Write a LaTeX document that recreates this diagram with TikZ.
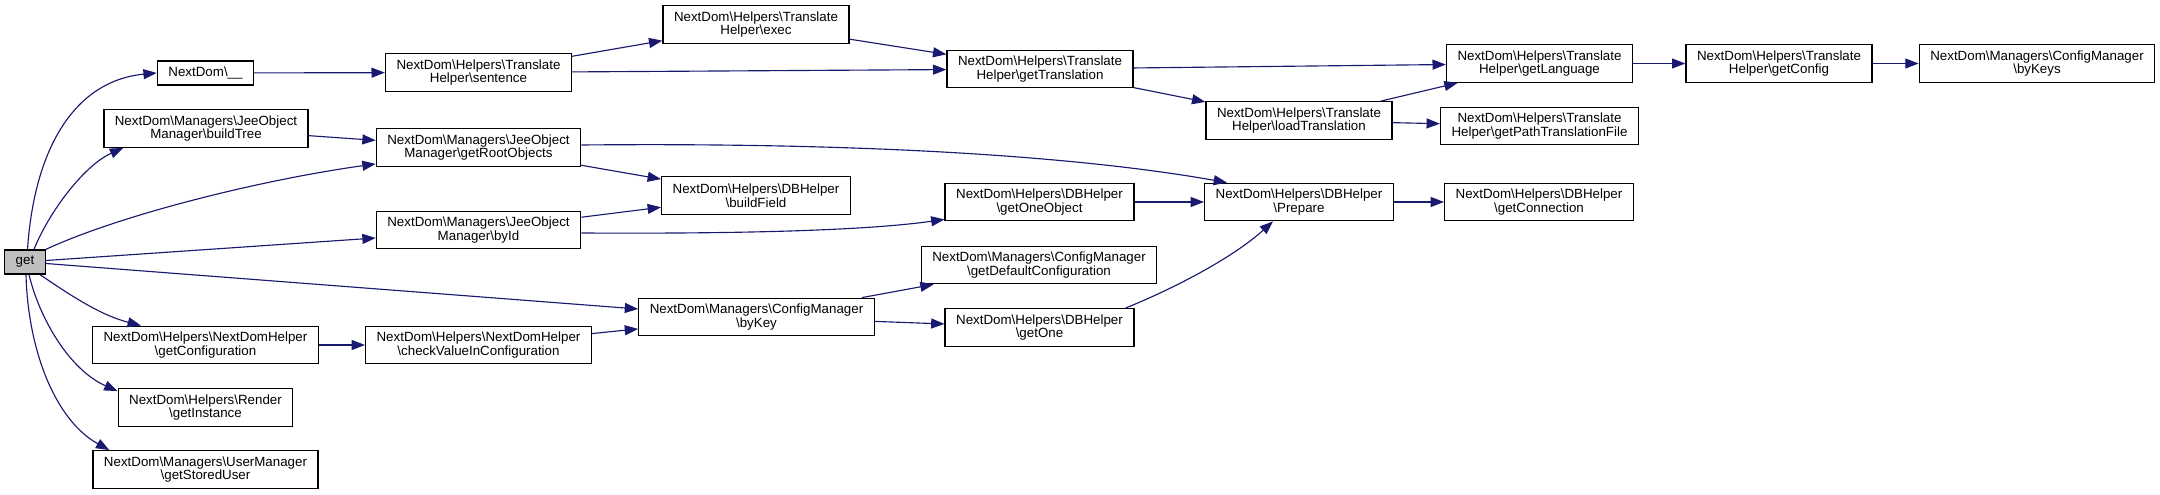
\documentclass[tikz,border=0pt]{standalone}
\usepackage{fontspec}
\setmainfont{Liberation Sans}
\usetikzlibrary{arrows.meta,calc}
\newcommand{\bsl}{\textbackslash}
\definecolor{edgecol}{HTML}{191970}
\definecolor{getgray}{HTML}{BFBFBF}
\begin{document}
\begin{tikzpicture}[x=0.75pt,y=-0.75pt,
  box/.style={draw=black, line width=1pt, fill=white, inner xsep=8.25pt, inner ysep=0pt,
    align=center, font=\fontsize{10}{9.2}\selectfont, minimum height=28.1pt},
  box1/.style={box, minimum height=18pt},
  call/.style={draw=edgecol, line width=0.85pt, -{Triangle[length=10pt,width=7.5pt]}}]
\useasboundingbox[fill=white] (0,0) rectangle (2160,495);

% nodes
\node[box1, fill=getgray] (get) at (25,262) {get};
\node[box1] (us) at (205.5,73) {NextDom\bsl\_\_};
\node[box] (buildtree) at (206,128.5) {NextDom\bsl Managers\bsl JeeObject\\Manager\bsl buildTree};
\node[box] (getconf) at (205.5,345) {NextDom\bsl Helpers\bsl NextDomHelper\\\bsl getConfiguration};
\node[box] (getinst) at (205.5,407.5) {NextDom\bsl Helpers\bsl Render\\\bsl getInstance};
\node[box] (stored) at (205.5,469.5) {NextDom\bsl Managers\bsl UserManager\\\bsl getStoredUser};
\node[box] (sentence) at (478.5,72.5) {NextDom\bsl Helpers\bsl Translate\\Helper\bsl sentence};
\node[box] (root) at (478.5,147.5) {NextDom\bsl Managers\bsl JeeObject\\Manager\bsl getRootObjects};
\node[box] (byid) at (478.5,230) {NextDom\bsl Managers\bsl JeeObject\\Manager\bsl byId};
\node[box] (check) at (478.5,345) {NextDom\bsl Helpers\bsl NextDomHelper\\\bsl checkValueInConfiguration};
\node[box] (exec) at (756,24.5) {NextDom\bsl Helpers\bsl Translate\\Helper\bsl exec};
\node[box] (gettr) at (1040,69) {NextDom\bsl Helpers\bsl Translate\\Helper\bsl getTranslation};
\node[box] (buildfield) at (756,195.5) {NextDom\bsl Helpers\bsl DBHelper\\\bsl buildField};
\node[box] (getoneobj) at (1039.5,202) {NextDom\bsl Helpers\bsl DBHelper\\\bsl getOneObject};
\node[box] (bykey) at (756.5,317) {NextDom\bsl Managers\bsl ConfigManager\\\bsl byKey};
\node[box] (getdef) at (1039,265) {NextDom\bsl Managers\bsl ConfigManager\\\bsl getDefaultConfiguration};
\node[box] (getone) at (1039.5,327.5) {NextDom\bsl Helpers\bsl DBHelper\\\bsl getOne};
\node[box] (load) at (1299,120.5) {NextDom\bsl Helpers\bsl Translate\\Helper\bsl loadTranslation};
\node[box] (prepare) at (1299,202) {NextDom\bsl Helpers\bsl DBHelper\\\bsl Prepare};
\node[box] (lang) at (1539.5,63.5) {NextDom\bsl Helpers\bsl Translate\\Helper\bsl getLanguage};
\node[box] (path) at (1539.5,126) {NextDom\bsl Helpers\bsl Translate\\Helper\bsl getPathTranslationFile};
\node[box] (getconfig) at (1779,63.5) {NextDom\bsl Helpers\bsl Translate\\Helper\bsl getConfig};
\node[box] (conn) at (1539,202) {NextDom\bsl Helpers\bsl DBHelper\\\bsl getConnection};
\node[box] (bykeys) at (2037,63.5) {NextDom\bsl Managers\bsl ConfigManager\\\bsl byKeys};

% edges from get
\draw[call] ($(get.north)+(2.5,0)$) .. controls (35,140) and (80,80) .. (us.west);
\draw[call] ($(get.north)+(9,0)$) .. controls (50,210) and (85,165) .. ($(buildtree.south west)+(20,0)$);
\draw[call] (get.north east) .. controls (120,215) and (260,180) .. ($(root.south west)+(0,-3)$);
\draw[call] ($(get.east)+(0,-1.5)$) -- ($(byid.west)+(0,8)$);
\draw[call] ($(get.east)+(0,1.5)$) -- ($(bykey.west)+(0,-8)$);
\draw[call] ($(get.south)+(15,0)$) .. controls (70,295) and (100,315) .. ($(getconf.north west)+(49,0)$);
\draw[call] ($(get.south)+(4,0)$) .. controls (40,320) and (70,370) .. ($(getinst.north west)+(0,3)$);
\draw[call] ($(get.south)+(1,0)$) .. controls (28,350) and (55,420) .. ($(stored.north west)+(17,0)$);

% other edges
\draw[call] (us) -- (sentence);
\draw[call] (sentence) -- (exec);
\draw[call] (sentence) -- (gettr);
\draw[call] (exec) -- (gettr);
\draw[call] (gettr) -- (lang);
\draw[call] (gettr) -- (load);
\draw[call] (load) -- (lang);
\draw[call] (load) -- (path);
\draw[call] (lang) -- (getconfig);
\draw[call] (getconfig) -- (bykeys);
\draw[call] (buildtree) -- (root);
\draw[call] ($(root.east)+(0,-2.5)$) .. controls (900,142) and (1100,160) .. ($(prepare.north west)+(23,0)$);
\draw[call] (root) -- (buildfield);
\draw[call] (byid) -- (buildfield);
\draw[call] ($(byid.east)+(0,3)$) .. controls (750,234) and (870,230) .. ($(getoneobj.south west)+(0,-2)$);
\draw[call] (getoneobj) -- (prepare);
\draw[call] (prepare) -- (conn);
\draw[call] (getconf) -- (check);
\draw[call] (check) -- (bykey);
\draw[call] (bykey) -- (getdef);
\draw[call] (bykey) -- (getone);
\draw[call] ($(getone.north east)+(-9,0)$) .. controls (1170,290) and (1230,260) .. ($(prepare.south)+(-26,0)$);
\end{tikzpicture}
\end{document}
